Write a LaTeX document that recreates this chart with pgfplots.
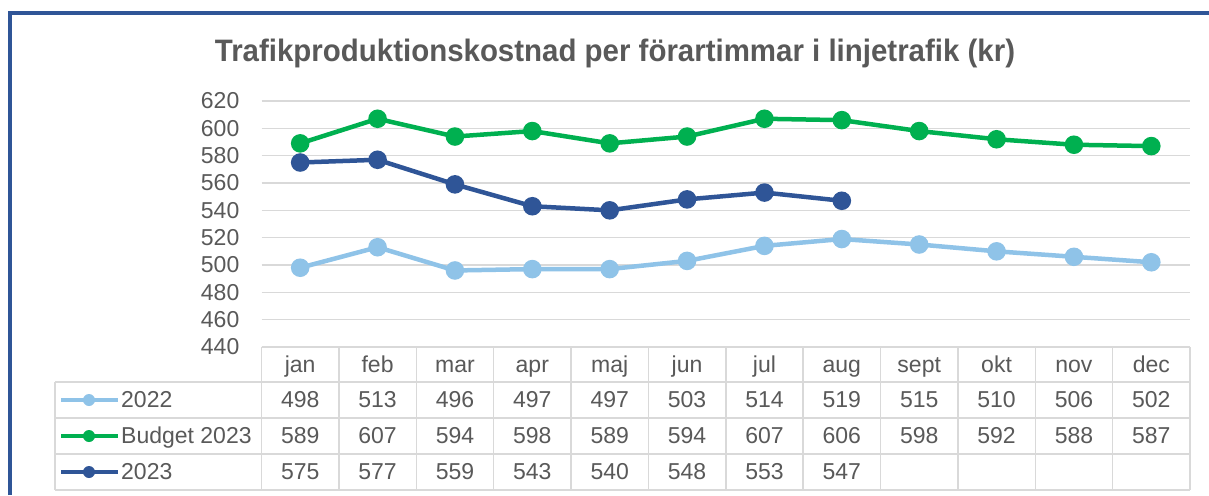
\documentclass[border=0pt]{standalone}
\usepackage{pgfplots}
\pgfplotsset{compat=1.18}
\usepackage{fontspec}
\setmainfont{Liberation Sans}
\newfontfamily\titlefont{Liberation Sans}[FakeStretch=0.95]
\definecolor{txt}{HTML}{595959}
\definecolor{grd}{HTML}{D9D9D9}
\definecolor{c22}{HTML}{8FC3E8}
\definecolor{cbud}{HTML}{00B050}
\definecolor{c23}{HTML}{2F5597}
\definecolor{frm}{HTML}{2F5597}

\begin{document}
\begin{tikzpicture}
\useasboundingbox (0,0) rectangle (1209pt,-495pt);
\fill[white] (0,0) rectangle (1209pt,-495pt);
\draw[frm, line width=3.5pt] (10pt,-495pt) -- (10pt,-13pt) -- (1209pt,-13pt);
\node[txt, font=\titlefont\bfseries\fontsize{31}{37}\selectfont, anchor=base]
  at (615pt,-62pt) {Trafikproduktionskostnad per förartimmar i linjetrafik (kr)};

\begin{axis}[
  at={(261.5pt,-347pt)}, anchor=south west,
  scale only axis, width=928.5pt, height=246pt,
  xmin=-0.5, xmax=11.5, ymin=440, ymax=620,
  ytick={440,460,...,620},
  xtick={0,...,11},
  xticklabels={jan,feb,mar,apr,maj,jun,jul,aug,sept,okt,nov,dec},
  axis line style={draw=none}, major tick length=0pt,
  ymajorgrids, major grid style={grd, line width=1.5pt},
  tick label style={txt, font=\fontsize{23}{27}\selectfont},
  /pgf/number format/assume math mode=true,
  yticklabel style={anchor=east, inner sep=0pt, xshift=-22pt},
  xticklabel style={anchor=base, inner sep=0pt, yshift=-25pt},
  clip=false,
  every axis plot/.append style={line width=4.5pt, mark=*, mark size=7pt,
    mark options={draw=none}},
]
\addplot[c22, mark options={fill=c22}] coordinates {
  (0,498) (1,513) (2,496) (3,497) (4,497) (5,503)
  (6,514) (7,519) (8,515) (9,510) (10,506) (11,502)};
\addplot[cbud, mark options={fill=cbud}] coordinates {
  (0,589) (1,607) (2,594) (3,598) (4,589) (5,594)
  (6,607) (7,606) (8,598) (9,592) (10,588) (11,587)};
\addplot[c23, mark options={fill=c23}] coordinates {
  (0,575) (1,577) (2,559) (3,543) (4,540) (5,548) (6,553) (7,547)};
\end{axis}

% data table below the chart
\begin{scope}[grd, line width=1.5pt]
  \foreach \k in {0,...,12}
    \draw ({261.5pt+77.375pt*\k},-347pt) -- ({261.5pt+77.375pt*\k},-490pt);
  \draw (261.5pt,-347pt) -- (1190pt,-347pt);
  \foreach \y in {382,418,454,490}
    \draw (55pt,-\y pt) -- (1190pt,-\y pt);
  \draw (55pt,-382pt) -- (55pt,-490pt);
\end{scope}

\begin{scope}[every node/.style={txt, font=\fontsize{23}{27}\selectfont, anchor=base, inner sep=0pt}]
  \foreach \v [count=\i from 0] in {498,513,496,497,497,503,514,519,515,510,506,502}
    \node at ({261.5pt+77.375pt*(\i+0.5)},-407pt) {\v};
  \foreach \v [count=\i from 0] in {589,607,594,598,589,594,607,606,598,592,588,587}
    \node at ({261.5pt+77.375pt*(\i+0.5)},-443pt) {\v};
  \foreach \v [count=\i from 0] in {575,577,559,543,540,548,553,547}
    \node at ({261.5pt+77.375pt*(\i+0.5)},-479pt) {\v};
  \foreach \c/\n/\y in {c22/2022/400, cbud/Budget 2023/436, c23/2023/472} {
    \draw[\c, line width=4.5pt] (61pt,-\y pt) -- (118pt,-\y pt);
    \fill[\c] (89pt,-\y pt) circle (6pt);
    \node[anchor=base west] at (121pt,{-\y pt-7pt}) {\n};
  }
\end{scope}
\end{tikzpicture}
\end{document}
